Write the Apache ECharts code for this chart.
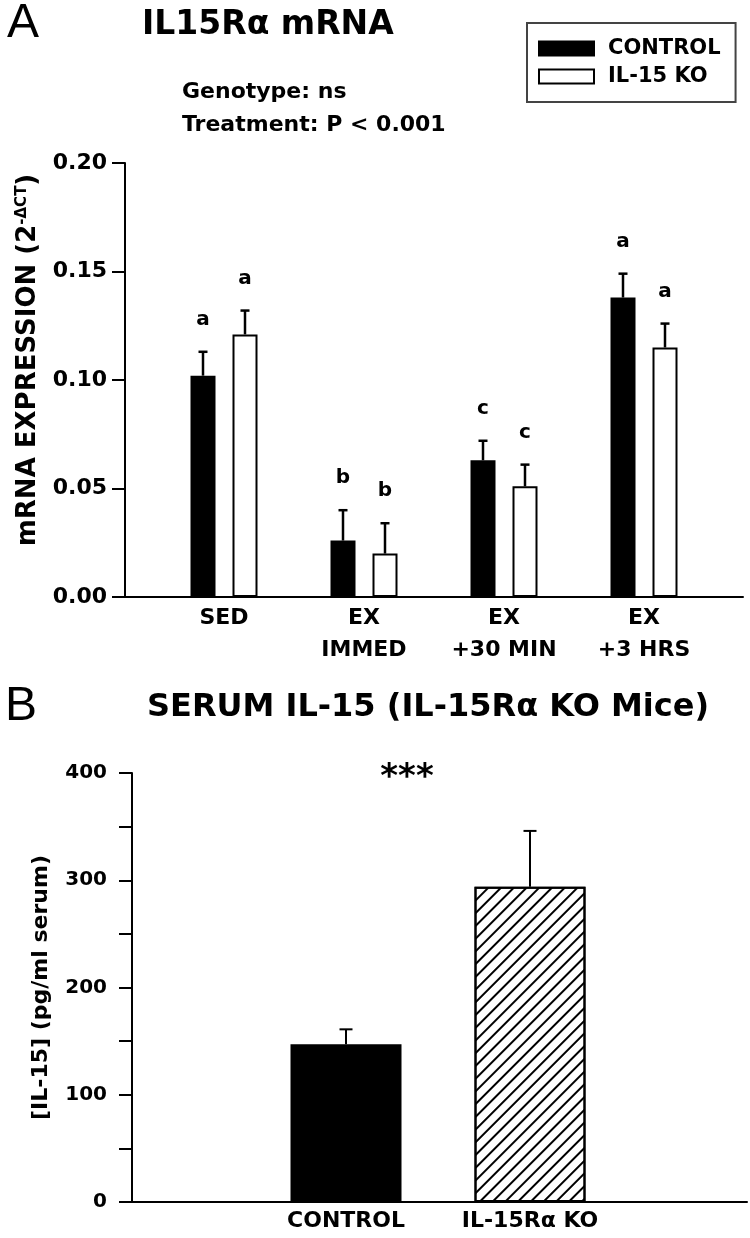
<!DOCTYPE html>
<html>
<head>
<meta charset="utf-8">
<title>IL15Ra mRNA / serum IL-15</title>
<script src="https://cdn.jsdelivr.net/npm/echarts@6.0.0/dist/echarts.min.js"></script>
<style>
  html, body { margin: 0; padding: 0; background: #fff; }
  #main { width: 750px; height: 1238px; }
</style>
</head>
<body>
<div id="main"></div>
<script>
  // panel A - IL15Ra mRNA (2^-dCT)
  var groupsA = ['SED', 'EX\nIMMED', 'EX\n+30 MIN', 'EX\n+3 HRS']
  var controlA = [0.102, 0.026, 0.063, 0.138]
  var controlErrA = [0.011, 0.014, 0.009, 0.011]
  var koA = [0.121, 0.020, 0.051, 0.115]
  var koErrA = [0.011, 0.014, 0.010, 0.011]
  var controlLettersA = ['a', 'b', 'c', 'a']
  var koLettersA = ['a', 'b', 'c', 'a']
  var ticksA = [0, 0.05, 0.10, 0.15, 0.20]

  // panel B - serum IL-15 (pg/ml)
  var groupsB = ['CONTROL', 'IL-15Rα KO']
  var serumB = [147, 294]
  var serumErrB = [14, 52]
  var ticksB = [0, 100, 200, 300, 400]
  var minorStepB = 50

  var FONT = 'DejaVu Sans'
  var BAR_W_A = 25
  var GAP_A = 17
  var shiftA = (BAR_W_A + GAP_A) / 2

  var boldText = function (size) {
    return { color: '#000', fontFamily: FONT, fontWeight: 'bold', fontSize: size }
  }

  // error bar (+ optional letter above it) drawn from the axis coords
  function errorBars(shift, capW, lw, letters) {
    return function (params, api) {
      var i = api.value(0)
      var v = api.value(1)
      var e = api.value(2)
      var base = api.coord([i, v])
      var top = api.coord([i, v + e])
      var x = base[0] + shift
      var kids = [
        { type: 'line', shape: { x1: x, y1: base[1], x2: x, y2: top[1] }, style: { stroke: '#000', lineWidth: lw } },
        { type: 'line', shape: { x1: x - capW / 2, y1: top[1], x2: x + capW / 2, y2: top[1] }, style: { stroke: '#000', lineWidth: lw } }
      ]
      if (letters) {
        kids.push({
          type: 'text', x: x, y: top[1] - 32,
          style: { text: letters[params.dataIndex], align: 'center', verticalAlign: 'middle', fill: '#000',
            font: 'bold 20px "' + FONT + '"' }
        })
      }
      return { type: 'group', children: kids }
    }
  }

  function withErr(vals, errs) {
    return vals.map(function (v, i) { return [i, v, errs[i]] })
  }

  var frameLine = { show: true, lineStyle: { color: '#000', width: 2 } }
  var hiddenX = function (grid) {
    return { gridIndex: grid, type: 'value', min: 0, max: 1, axisLine: frameLine,
      axisTick: { show: false }, axisLabel: { show: false }, splitLine: { show: false } }
  }

  var stylesB = [
    { color: '#000', borderColor: '#000', borderWidth: 2 },
    { color: '#fff', borderColor: '#000', borderWidth: 2,
      decal: { symbol: 'rect', symbolSize: 1, color: '#000', dashArrayX: [1, 0], dashArrayY: [1.6, 6.4], rotation: -Math.PI / 4 } }
  ]

  var myChart = echarts.init(document.getElementById('main'))
  myChart.setOption({
    animation: false,
    backgroundColor: '#fff',
    graphic: [
      { type: 'text', x: 7, y: 24, style: { text: 'A', font: '48px "Liberation Sans"', verticalAlign: 'middle', fill: '#000' } },
      { type: 'text', x: 142, y: 25, style: { text: 'IL15Rα mRNA', font: 'bold 33px "' + FONT + '"', verticalAlign: 'middle', fill: '#000' } },
      { type: 'text', x: 182, y: 92, style: { text: 'Genotype: ns', font: 'bold 22px "' + FONT + '"', verticalAlign: 'middle', fill: '#000' } },
      { type: 'text', x: 182, y: 125, style: { text: 'Treatment: P < 0.001', font: 'bold 22px "' + FONT + '"', verticalAlign: 'middle', fill: '#000' } },
      { type: 'text', x: 5, y: 707, style: { text: 'B', font: '48px "Liberation Sans"', verticalAlign: 'middle', fill: '#000' } },
      { type: 'text', x: 147, y: 708, style: { text: 'SERUM IL-15 (IL-15Rα KO Mice)', font: 'bold 32px "' + FONT + '"', verticalAlign: 'middle', fill: '#000' } },
      { type: 'text', x: 407, y: 778, style: { text: '***', font: 'bold 34px "' + FONT + '"', align: 'center', verticalAlign: 'middle', fill: '#000' } }
    ],
    legend: {
      data: ['CONTROL', 'IL-15 KO'],
      orient: 'vertical',
      left: 527,
      top: 23,
      padding: [15, 15, 15, 11],
      icon: 'rect',
      itemWidth: 55,
      itemHeight: 14,
      itemGap: 7,
      borderColor: '#444',
      borderWidth: 2,
      selectedMode: false,
      textStyle: Object.assign(boldText(21), { padding: [0, 0, 0, 9] })
    },
    grid: [
      { left: 125, top: 163, width: 618, height: 434 },
      { left: 154, top: 163, width: 560, height: 434 },
      { left: 132, top: 773, width: 615, height: 429 },
      { left: 254, top: 773, width: 368, height: 429 }
    ],
    xAxis: [
      hiddenX(0),
      { gridIndex: 1, type: 'category', data: groupsA, axisLine: { show: false }, axisTick: { show: false },
        axisLabel: Object.assign(boldText(22), { lineHeight: 32, margin: 5, interval: 0 }) },
      hiddenX(2),
      { gridIndex: 3, type: 'category', data: groupsB, axisLine: { show: false }, axisTick: { show: false },
        axisLabel: Object.assign(boldText(22), { margin: 8, interval: 0 }) }
    ],
    yAxis: [
      { gridIndex: 0, type: 'value', min: ticksA[0], max: ticksA[ticksA.length - 1], interval: ticksA[1] - ticksA[0],
        axisLine: frameLine, axisTick: { show: true, length: 13, lineStyle: { color: '#000', width: 2 } },
        axisLabel: Object.assign(boldText(22), { margin: 18, formatter: function (v) { return v.toFixed(2) } }),
        splitLine: { show: false },
        name: 'mRNA EXPRESSION (2{sup|-ΔCT})', nameLocation: 'middle', nameRotate: 90, nameGap: 84,
        nameTextStyle: Object.assign(boldText(26), { padding: [0, 0, 0, 40], rich: { sup: { fontFamily: FONT, fontWeight: 'bold', fontSize: 15, color: '#000', verticalAlign: 'top' } } }) },
      { gridIndex: 1, type: 'value', min: ticksA[0], max: ticksA[ticksA.length - 1], show: false },
      { gridIndex: 2, type: 'value', min: ticksB[0], max: ticksB[ticksB.length - 1], interval: minorStepB,
        axisLine: frameLine, axisTick: { show: true, length: 13, lineStyle: { color: '#000', width: 2 } },
        axisLabel: Object.assign(boldText(20), { margin: 25, formatter: function (v) { return ticksB.indexOf(v) >= 0 ? v : '' } }),
        splitLine: { show: false },
        name: '[IL-15] (pg/ml serum)', nameLocation: 'middle', nameRotate: 90, nameGap: 80,
        nameTextStyle: boldText(22) },
      { gridIndex: 3, type: 'value', min: ticksB[0], max: ticksB[ticksB.length - 1], show: false }
    ],
    series: [
      { name: 'CONTROL', type: 'bar', xAxisIndex: 1, yAxisIndex: 1, data: controlA,
        barWidth: BAR_W_A, barGap: (GAP_A / BAR_W_A * 100) + '%',
        itemStyle: { color: '#000', borderColor: '#000', borderWidth: 2 } },
      { name: 'IL-15 KO', type: 'bar', xAxisIndex: 1, yAxisIndex: 1, data: koA,
        barWidth: BAR_W_A,
        itemStyle: { color: '#fff', borderColor: '#000', borderWidth: 2 } },
      { type: 'custom', xAxisIndex: 1, yAxisIndex: 1, data: withErr(controlA, controlErrA),
        renderItem: errorBars(-shiftA, 9, 2.5, controlLettersA), z: 5 },
      { type: 'custom', xAxisIndex: 1, yAxisIndex: 1, data: withErr(koA, koErrA),
        renderItem: errorBars(shiftA, 9, 2.5, koLettersA), z: 5 },
      { type: 'bar', xAxisIndex: 3, yAxisIndex: 3, barWidth: 111,
        data: serumB.map(function (v, i) { return { value: v, itemStyle: stylesB[i] } }) },
      { type: 'custom', xAxisIndex: 3, yAxisIndex: 3, data: withErr(serumB, serumErrB),
        renderItem: errorBars(0, 13, 2, null), z: 5 }
    ]
  })
</script>
</body>
</html>
